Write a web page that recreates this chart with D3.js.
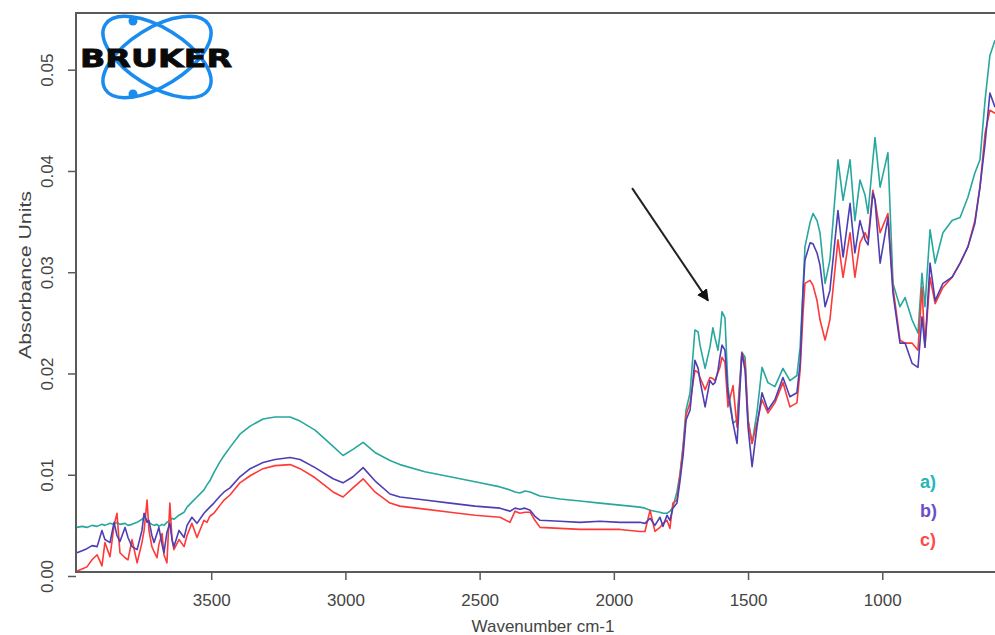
<!DOCTYPE html>
<html>
<head>
<meta charset="utf-8">
<script src="https://cdn.jsdelivr.net/npm/d3@7"></script>
<style>
  body { margin: 0; background: white; }
  svg { display: block; font-family: "Liberation Sans", Arial, sans-serif; }
</style>
</head>
<body>
<div id="chart"></div>
<script>
// wavenumbers (cm-1), shared by the three spectra
const wavenumbers = [
  4000,3981,3963,3944,3925,3907,3896,3877,3862,3851,3840,3821,3810,3795,3776,3758,3750,3739,3732,3721,3713,3702,3695,3683,3676,3665,3654,3646,3639,3620,3601,3590,3572,3553,3527,3516,3505,3490,3467,3452,3430,
  3393,3355,3307,3262,3206,3169,3113,3046,3009,2972,2934,2890,2834,2797,2704,2610,2517,2424,2387,2368,2350,2331,2312,2294,2275,2201,2126,2052,1977,1903,
  1884,1865,1847,1828,1817,1802,1791,1780,1765,1754,1742,1731,
  1716,1698,1686,1679,1660,1642,1631,1623,1612,1605,1597,1586,1575,1556,1541,1523,1511,1500,1485,1467,1448,1426,1400,1370,1344,1318,1306,1295,
  1288,1269,1258,1243,1232,1213,1195,1165,1146,1120,1102,1083,1064,1053,1035,1027,1008,979,960,934,915,889,867,852,841,822,803,774,740,710,681,655,636,617,599,580
]

const absA = [
  .0048,.0049,.0048,.0050,.0049,.0051,.0050,.0052,.0051,.0053,.0051,.0052,.0050,.0051,.0053,.0056,.0058,.0055,.0053,.0051,.0050,.0051,.0049,.0051,.0050,.0053,.0055,.0057,.0056,.0060,.0063,.0068,.0073,.0078,.0085,.0090,.0094,.0102,.0113,.0119,.0127,
  .0140,.0148,.0155,.0157,.0157,.0153,.0144,.0128,.0119,.0125,.0132,.0122,.0114,.0110,.0103,.0098,.0093,.0088,.0085,.0083,.0082,.0084,.0083,.0081,.0079,.0076,.0074,.0072,.0070,.0068,
  .0067,.0065,.0064,.0063,.0062,.0062,.0064,.0068,.0083,.0100,.0129,.0164,
  .0181,.0243,.0241,.0228,.0205,.0226,.0245,.0235,.0223,.0238,.0261,.0255,.0187,.0151,.0154,.0221,.0216,.0154,.0131,.0161,.0206,.0191,.0187,.0205,.0193,.0198,.0226,.0285,
  .0325,.0349,.0358,.0351,.0339,.0289,.0312,.0411,.0371,.0411,.0351,.0391,.0376,.0358,.0411,.0433,.0384,.0418,.0289,.0266,.0275,.0253,.0240,.0299,.0266,.0342,.0309,.0339,.0351,.0354,.0374,.0398,.0411,.0470,.0514,.0529
]

const absB = [
  .0023,.0025,.0027,.0030,.0029,.0045,.0036,.0033,.0053,.0040,.0034,.0048,.0038,.0029,.0026,.0045,.0062,.0053,.0055,.0040,.0033,.0042,.0048,.0031,.0023,.0043,.0052,.0036,.0029,.0045,.0038,.0050,.0058,.0052,.0062,.0065,.0068,.0072,.0079,.0083,.0087,
  .0098,.0106,.0112,.0115,.0117,.0115,.0107,.0096,.0092,.0098,.0107,.0094,.0081,.0078,.0075,.0072,.0069,.0067,.0064,.0067,.0066,.0067,.0065,.0059,.0055,.0054,.0053,.0054,.0053,.0053,
  .0052,.0057,.0050,.0058,.0049,.0060,.0055,.0067,.0072,.0093,.0119,.0154,
  .0164,.0213,.0205,.0193,.0167,.0193,.0189,.0191,.0203,.0216,.0228,.0223,.0181,.0151,.0131,.0220,.0203,.0147,.0108,.0147,.0181,.0164,.0174,.0196,.0177,.0181,.0210,.0282,
  .0312,.0329,.0328,.0319,.0307,.0266,.0282,.0361,.0315,.0368,.0319,.0351,.0332,.0327,.0378,.0371,.0309,.0354,.0279,.0230,.0230,.0210,.0206,.0256,.0226,.0309,.0272,.0289,.0295,.0309,.0325,.0348,.0384,.0427,.0477,.0463
]

const absC = [
  .0005,.0007,.0009,.0016,.0021,.0010,.0033,.0019,.0050,.0062,.0023,.0018,.0016,.0036,.0013,.0033,.0045,.0075,.0045,.0029,.0024,.0018,.0031,.0042,.0021,.0013,.0072,.0036,.0026,.0036,.0029,.0040,.0052,.0038,.0055,.0053,.0059,.0062,.0070,.0075,.0080,
  .0092,.0099,.0106,.0109,.0110,.0106,.0097,.0083,.0078,.0087,.0096,.0083,.0072,.0069,.0066,.0063,.0060,.0058,.0053,.0064,.0062,.0063,.0063,.0055,.0048,.0047,.0046,.0046,.0046,.0044,
  .0044,.0065,.0044,.0048,.0052,.0055,.0047,.0072,.0075,.0098,.0126,.0159,
  .0171,.0203,.0201,.0196,.0184,.0196,.0195,.0193,.0201,.0206,.0216,.0211,.0167,.0188,.0147,.0221,.0210,.0154,.0131,.0151,.0174,.0161,.0171,.0191,.0167,.0171,.0203,.0260,
  .0289,.0292,.0287,.0272,.0253,.0233,.0253,.0332,.0295,.0339,.0295,.0329,.0339,.0332,.0381,.0371,.0339,.0358,.0285,.0233,.0230,.0230,.0223,.0285,.0226,.0295,.0269,.0285,.0295,.0309,.0325,.0351,.0384,.0437,.0460,.0457
]

const seriesNames = ["a)", "b)", "c)"]
const xTicks = [3500, 3000, 2500, 2000, 1500, 1000]
const yTicks = [0, 0.01, 0.02, 0.03, 0.04, 0.05]
// arrow pointing at the amide band: [wavenumber, absorbance] of tail and tip
const arrowTail = [1932, 0.0383]
const arrowTip = [1649, 0.0272]

let width = 995
let height = 635
let plotL = 76, plotT = 13, plotR = 995, plotB = 572

let svg = d3.select("#chart").append("svg")
  .attr("width", width)
  .attr("height", height)

let x = d3.scaleLinear().domain([4000, 580]).range([77, 995])
let y = d3.scaleLinear().domain([0, 0.0556]).range([576, 13])

let lineColors = ["#27a79e", "#4c3fb4", "#ff3838"]
let labelColors = ["#22b8b8", "#6a4fc9", "#ff4a4a"]

// frame (top, left, bottom)
let frame = svg.append("g").attr("stroke", "#5a5a5a").attr("stroke-width", 2).attr("fill", "none")
frame.append("path").attr("d", `M${plotR},${plotT}H${plotL}V${plotB}H${plotR}`)

// y axis, labels turned on their side like the Bruker print
let yAxis = svg.append("g")
  .attr("transform", `translate(${plotL},0)`)
  .call(d3.axisLeft(y).tickValues(yTicks).tickFormat(d3.format(".2f")).tickSize(8))
yAxis.select(".domain").remove()
yAxis.selectAll("line").attr("stroke", "#5a5a5a").attr("stroke-width", 1.5)
yAxis.selectAll("text")
  .attr("x", 0).attr("y", 0).attr("dy", "0.35em")
  .attr("transform", "translate(-29,0) rotate(-90)")
  .style("text-anchor", "middle")
  .style("font-size", "17px").style("fill", "#444")

// x axis
let xAxis = svg.append("g")
  .attr("transform", `translate(0,${plotB})`)
  .call(d3.axisBottom(x).tickValues(xTicks).tickFormat(d3.format("d")).tickSize(8).tickPadding(14))
xAxis.select(".domain").remove()
xAxis.selectAll("line").attr("stroke", "#5a5a5a").attr("stroke-width", 1.5)
xAxis.selectAll("text").style("font-size", "17px").style("fill", "#444")

svg.append("text")
  .attr("x", 543).attr("y", 632)
  .attr("text-anchor", "middle")
  .style("font-size", "17px").style("fill", "#444")
  .text("Wavenumber cm-1")

svg.append("text")
  .attr("transform", "translate(31,275) rotate(-90)")
  .attr("text-anchor", "middle")
  .attr("textLength", 168).attr("lengthAdjust", "spacingAndGlyphs")
  .style("font-size", "17px").style("fill", "#444")
  .text("Absorbance Units")

// spectra
let spectra = [absA, absB, absC]
let line = d3.line().x(d => x(d[0])).y(d => y(d[1]))
let order = [0, 2, 1] // red drawn under blue
order.forEach(i => {
  let pts = wavenumbers.map((w, j) => [w, spectra[i][j]])
  svg.append("path")
    .datum(pts)
    .attr("d", line)
    .attr("fill", "none")
    .attr("stroke", lineColors[i])
    .attr("stroke-width", 1.6)
    .attr("stroke-linejoin", "round")
})

// legend labels
svg.selectAll(".lab").data(seriesNames).enter().append("text")
  .attr("class", "lab")
  .attr("x", 920)
  .attr("y", (d, i) => 488 + i * 29)
  .style("font-size", "18px").style("font-weight", "bold")
  .style("fill", (d, i) => labelColors[i])
  .text(d => d)

// arrow
svg.append("defs").append("marker")
  .attr("id", "head").attr("viewBox", "0 0 10 10")
  .attr("refX", 9).attr("refY", 5)
  .attr("markerWidth", 6).attr("markerHeight", 6)
  .attr("orient", "auto")
  .append("path").attr("d", "M0,0L10,5L0,10z").attr("fill", "#111")
svg.append("line")
  .attr("x1", x(arrowTail[0])).attr("y1", y(arrowTail[1]))
  .attr("x2", x(arrowTip[0])).attr("y2", y(arrowTip[1]))
  .attr("stroke", "#222").attr("stroke-width", 2)
  .attr("marker-end", "url(#head)")

// logo
let logo = svg.append("g")
logo.selectAll("ellipse").data([-32, 32]).enter().append("ellipse")
  .attr("cx", 0).attr("cy", 0).attr("rx", 61).attr("ry", 29)
  .attr("transform", d => `translate(157,57) rotate(${d})`)
  .attr("fill", "none").attr("stroke", "#1a8cf0").attr("stroke-width", 3.5)
logo.selectAll("circle").data([[133, 21], [133, 94]]).enter().append("circle")
  .attr("cx", d => d[0]).attr("cy", d => d[1]).attr("r", 4.5)
  .attr("fill", "#1a8cf0")
logo.append("text")
  .attr("x", 80).attr("y", 67)
  .attr("textLength", 152).attr("lengthAdjust", "spacingAndGlyphs")
  .style("font-family", "'DejaVu Sans', sans-serif")
  .style("font-size", "24px").style("font-weight", "bold")
  .style("fill", "#0a0a0a")
  .style("stroke", "#0a0a0a").style("stroke-width", 0.8)
  .text("BRUKER")
</script>
</body>
</html>
